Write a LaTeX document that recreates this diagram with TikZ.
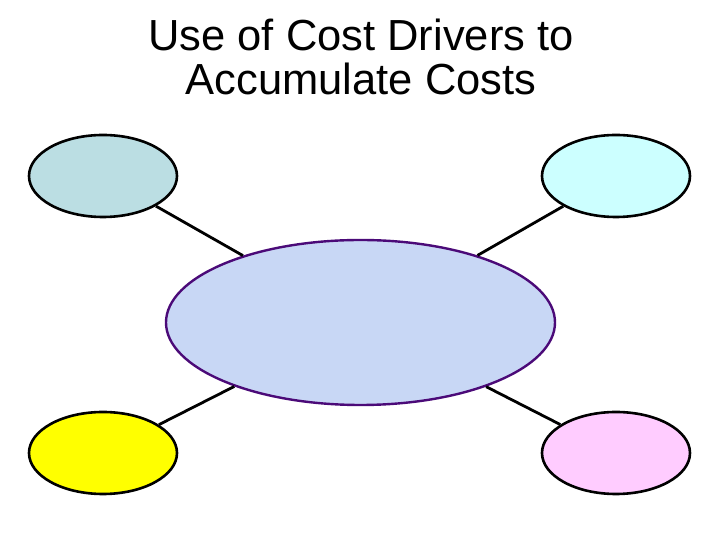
\documentclass[tikz,border=0pt]{standalone}
\usepackage{fontspec}
\setmainfont{Liberation Sans}
\usepackage{tikz}
\usetikzlibrary{shapes}
\definecolor{tlblue}{RGB}{187,222,227}
\definecolor{trcyan}{RGB}{204,255,255}
\definecolor{blyellow}{RGB}{255,255,0}
\definecolor{brpink}{RGB}{255,204,255}
\definecolor{hubfill}{RGB}{200,215,245}
\definecolor{hubline}{RGB}{75,10,120}
\tikzset{
  bubble/.style = {ellipse, draw=black, line width=2.6pt, inner sep=0pt,
    minimum width=148pt, minimum height=82pt},
  hub/.style = {ellipse, draw=hubline, fill=hubfill, line width=2.4pt, inner sep=0pt,
    minimum width=389pt, minimum height=165pt},
  spoke/.style = {draw=black, line width=2.8pt},
  heading/.style = {align=center, inner sep=0pt, font=\fontsize{43.5}{44}\selectfont},
}
\begin{document}
\begin{tikzpicture}[x=1pt,y=1pt]
\useasboundingbox (0,0) rectangle (720,540);
\node [heading, anchor=south] (title) at (361,445) {Use of Cost Drivers to\\Accumulate Costs};
\node [hub] (hub) at (360.5,217.5) {};
\node [bubble, fill=tlblue] (tl) at (103,364) {}; % top left
\node [bubble, fill=trcyan] (tr) at (616,364) {}; % top right
\node [bubble, fill=blyellow] (bl) at (103,87) {}; % bottom left
\node [bubble, fill=brpink] (br) at (616,87) {}; % bottom right
\draw [spoke] (tl) -- (hub);
\draw [spoke] (tr) -- (hub);
\draw [spoke] (bl) -- (hub);
\draw [spoke] (br) -- (hub);
\end{tikzpicture}
\end{document}
